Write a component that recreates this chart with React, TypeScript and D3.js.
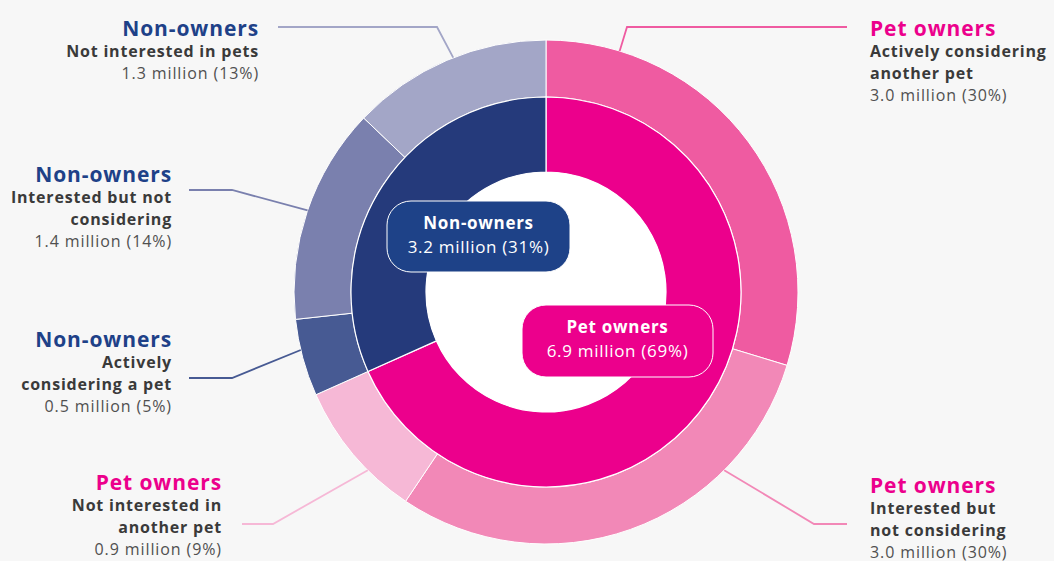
import React from 'react';
import * as d3 from 'd3';

// inner ring: ownership
const innerGroups = ['Pet owners', 'Non-owners'];
const innerValues = [6.9, 3.2];
const innerShares = [69, 31];

// outer ring: intent, clockwise from 12 o'clock
const outerGroups = ['Pet owners', 'Pet owners', 'Pet owners', 'Non-owners', 'Non-owners', 'Non-owners'];
const outerLines = [
  ['Actively considering', 'another pet'],
  ['Interested but', 'not considering'],
  ['Not interested in', 'another pet'],
  ['Actively', 'considering a pet'],
  ['Interested but not', 'considering'],
  ['Not interested in pets'],
];
const outerValues = [3.0, 3.0, 0.9, 0.5, 1.4, 1.3];
const outerShares = [30, 30, 9, 5, 14, 13];

const W = 1054;
const H = 561;
const cx = 546;
const cy = 292;
const rHole = 120;
const rMid = 195;
const rOut = 252;

const innerColors = ['#EC008C', '#253A7B'];
const outerColors = ['#EF5BA1', '#F288B7', '#F6B8D6', '#475A93', '#7A80AE', '#A3A6C7'];
const groupColor = { 'Pet owners': '#EC008C', 'Non-owners': '#1E4188' };

// label placement for the outer ring callouts
const callouts = [
  { x: 870, y: 36, anchor: 'start', lx: 847, ly: 27, ex: 627, deg: 17 },
  { x: 870, y: 493, anchor: 'start', lx: 847, ly: 524, ex: 814, deg: 135 },
  { x: 222, y: 490, anchor: 'end', lx: 242, ly: 524, ex: 273, deg: 225 },
  { x: 172, y: 347, anchor: 'end', lx: 189, ly: 378, ex: 232, deg: 256.7 },
  { x: 172, y: 182, anchor: 'end', lx: 189, ly: 190, ex: 232, deg: 288.9 },
  { x: 259, y: 36, anchor: 'end', lx: 278, ly: 27, ex: 437, deg: 338.4 },
];

// centre boxes
const boxes = [
  { x: 522, y: 305, w: 191, h: 72, fill: '#EC008C' },
  { x: 387, y: 201, w: 183, h: 71, fill: '#1E4288' },
];

const font = '"Open Sans", sans-serif';

export default function App() {
  const pie = d3.pie<number>().sort(null).value(d => d);
  const innerArcs = pie(innerValues);
  const outerArcs = pie(outerValues);
  const innerArc = d3.arc<d3.PieArcDatum<number>>().innerRadius(rHole).outerRadius(rMid);
  const outerArc = d3.arc<d3.PieArcDatum<number>>().innerRadius(rMid).outerRadius(rOut);

  return (
    <div style={{ position: 'fixed', left: 0, top: 0, width: W, height: H, background: '#F7F7F7' }}>
      <svg width={W} height={H} style={{ display: 'block' }} fontFamily={font}>
        <g transform={`translate(${cx},${cy})`}>
          {outerArcs.map((a, i) => (
            <path key={'o' + i} d={outerArc(a) || ''} fill={outerColors[i]} stroke="#fff" strokeWidth={1} />
          ))}
          {innerArcs.map((a, i) => (
            <path key={'i' + i} d={innerArc(a) || ''} fill={innerColors[i]} stroke="#fff" strokeWidth={1.2} />
          ))}
          <circle r={rHole} fill="#fff" />
        </g>

        {callouts.map((c, i) => {
          const t = (c.deg * Math.PI) / 180;
          const px = cx + rOut * Math.sin(t);
          const py = cy - rOut * Math.cos(t);
          return (
            <polyline
              key={'l' + i}
              points={`${c.lx},${c.ly} ${c.ex},${c.ly} ${px},${py}`}
              fill="none"
              stroke={outerColors[i]}
              strokeWidth={1.8}
            />
          );
        })}

        {callouts.map((c, i) => (
          <text key={'t' + i} x={c.x} textAnchor={c.anchor}>
            <tspan x={c.x} y={c.y} fontSize={21} fontWeight={700} letterSpacing={0.9} fill={groupColor[outerGroups[i]]}>
              {outerGroups[i]}
            </tspan>
            {outerLines[i].map((ln, j) => (
              <tspan key={j} x={c.x} y={c.y + 21 + j * 22} fontSize={16} fontWeight={700} letterSpacing={0.8} fill="#3A3A3A">
                {ln}
              </tspan>
            ))}
            <tspan x={c.x} y={c.y + 21 + outerLines[i].length * 22} fontSize={16} letterSpacing={0.9} fill="#505050">
              {`${outerValues[i].toFixed(1)} million (${outerShares[i]}%)`}
            </tspan>
          </text>
        ))}

        {boxes.map((b, i) => (
          <g key={'b' + i}>
            <rect x={b.x} y={b.y} width={b.w} height={b.h} rx={24} fill={b.fill} stroke="#fff" strokeWidth={1} />
            <text x={b.x + b.w / 2} y={b.y + 28} textAnchor="middle" fill="#fff" fontSize={17} fontWeight={700} letterSpacing={0.7}>
              {innerGroups[i]}
            </text>
            <text x={b.x + b.w / 2} y={b.y + 52} textAnchor="middle" fill="#fff" fontSize={17} letterSpacing={0.7}>
              {`${innerValues[i].toFixed(1)} million (${innerShares[i]}%)`}
            </text>
          </g>
        ))}
      </svg>
    </div>
  );
}
